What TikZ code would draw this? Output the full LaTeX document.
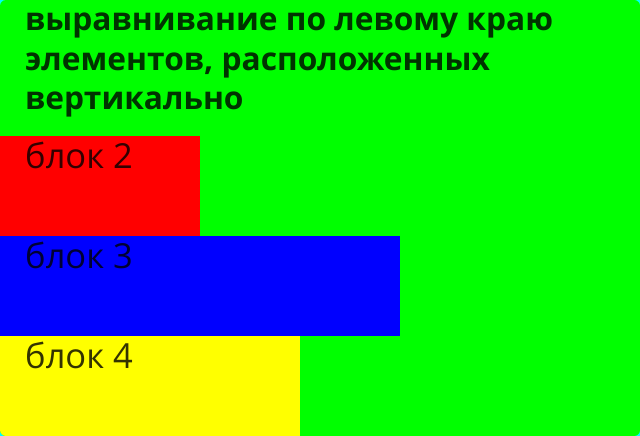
\documentclass[tikz,border=0pt]{standalone}
\usepackage{fontspec}
\setmainfont{Open Sans}
\usetikzlibrary{positioning}
\definecolor{pagegreen}{RGB}{0,255,0}
\definecolor{edgecyan}{RGB}{0,255,255}
\definecolor{blokyellow}{RGB}{255,255,0}
\tikzset{
  blok/.style={anchor=north west, inner sep=0pt, outer sep=0pt, minimum height=100pt},
  bloklabel/.style={anchor=base west, inner sep=0pt, text opacity=0.8,
    font=\fontsize{34.5}{40}\selectfont},
  headline/.style={anchor=base west, inner sep=0pt, text opacity=0.8,
    font=\bfseries\fontsize{31.7}{39.5}\selectfont}
}

\begin{document}
\begin{tikzpicture}[x=1pt, y=1pt]
    \useasboundingbox (0,0) rectangle (640,-436);
    % Background and container
    \fill[edgecyan] (0,0) rectangle (640,-436);
    \begin{scope}
    \clip[rounded corners=6pt] (0,0) rectangle (640,-436);
    \fill[pagegreen] (0,0) rectangle (640,-436);

    % Blocks
    \node[blok, fill=red, minimum width=200pt] (blok2) at (0,-136) {};
    \node[blok, fill=blue, minimum width=400pt] (blok3) at (0,-236) {};
    \node[blok, fill=blokyellow, minimum width=300pt] (blok4) at (0,-336) {};
    \end{scope}

    % Heading, one line per node
    \node[headline] (title1) at (25,-31) {выравнивание по левому краю};
    \node[headline] (title2) at (25,-70.5) {элементов, расположенных};
    \node[headline] (title3) at (25,-110) {вертикально};

    % Labels
    \node[bloklabel] (lab2) at (25,-168) {блок 2};
    \node[bloklabel] (lab3) at (25,-268) {блок 3};
    \node[bloklabel] (lab4) at (25,-368) {блок 4};
\end{tikzpicture}
\end{document}
